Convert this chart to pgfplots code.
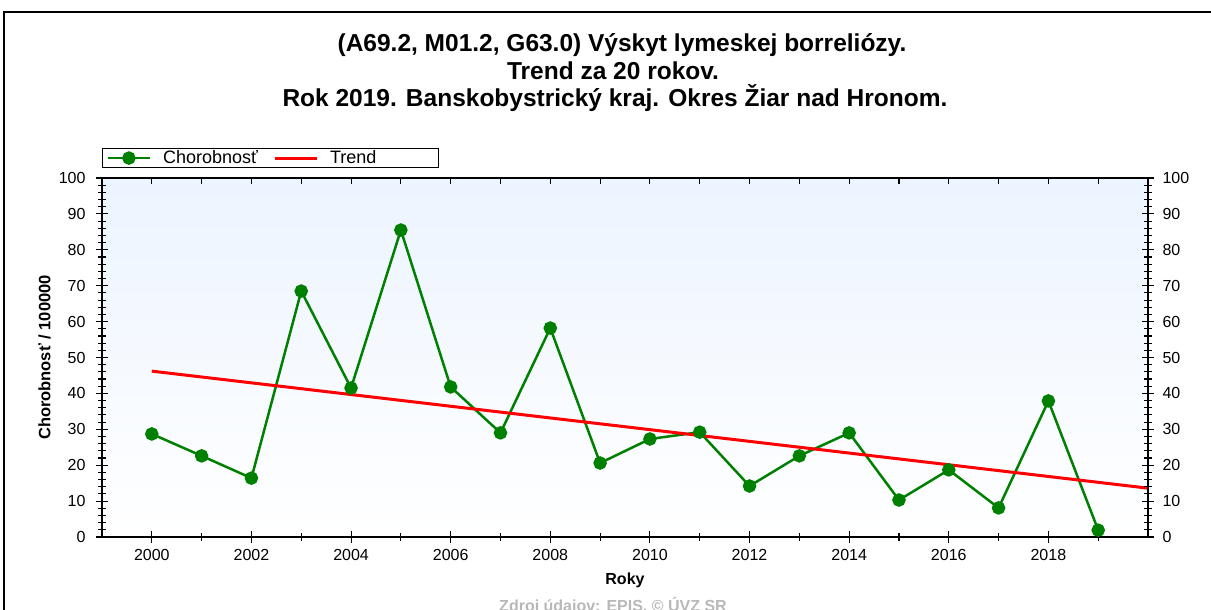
\documentclass[border=0pt]{standalone}
\usepackage{pgfplots}
\pgfplotsset{compat=1.18}
\usepackage{fontspec}
\setmainfont{Liberation Sans}
\definecolor{cgreen}{RGB}{0,128,0}
\definecolor{cred}{RGB}{255,0,0}
\definecolor{bgtop}{RGB}{236,244,255}
\begin{document}
\begin{tikzpicture}[x=1pt,y=1pt]
\useasboundingbox (0,0) rectangle (1211,610);
\draw[line width=1.3pt] (4,-20) -- (4,598) -- (1240,598);
\node[font=\bfseries\fontsize{24.5}{28}\selectfont] at (622,565) {(A69.2, M01.2, G63.0) Výskyt lymeskej borreliózy.};
\node[font=\bfseries\fontsize{24.5}{28}\selectfont] at (613,539) {Trend za 20 rokov.};
\node[font=\bfseries\fontsize{24.5}{28}\selectfont] at (615,512) {Rok 2019. Banskobystrický kraj. Okres Žiar nad Hronom.};
\node[font=\bfseries\fontsize{16}{19}\selectfont, text=black!28, anchor=base] at (613,-2) {Zdroj údajov: EPIS, © ÚVZ SR};
\pgfplotsset{base/.style={
  at={(102pt,73pt)}, anchor=south west,
  width=1046pt, height=359pt, scale only axis,
  xmin=1999, xmax=2020, ymin=0, ymax=100,
  /pgf/number format/assume math mode=true,
  /pgf/number format/1000 sep={},
  tick label style={font=\fontsize{16}{19}\selectfont},
  axis line style={line width=1.3pt},
  every tick/.style={black, line width=1.1pt},
}}
\begin{axis}[base,
  axis background/.style={top color=bgtop, bottom color=white},
  xtick={2000,2002,...,2018},
  minor xtick={2001,2003,...,2019},
  xtick pos=bottom,
  ytick={0,10,...,100},
  minor ytick={0,2,...,100},
  ytick pos=left,
  tick align=center,
  major tick length=12pt,
  minor tick length=8pt,
  xticklabel style={yshift=-3pt},
  yticklabel style={xshift=-7pt},
  xlabel={Roky},
  ylabel={Chorobnosť / 100000},
  xlabel style={font=\bfseries\fontsize{16}{19}\selectfont, at={(axis description cs:0.5,-0.12)}, anchor=center},
  ylabel style={font=\bfseries\fontsize{16.5}{19}\selectfont, at={(axis description cs:-0.055,0.5)}, anchor=center},
  legend columns=2,
  legend style={at={(0,1)}, anchor=south west, yshift=10pt, draw=black, line width=1.3pt,
    inner xsep=4pt, inner ysep=0pt, font=\fontsize{18}{20}\selectfont,
    /tikz/every even column/.append style={column sep=8pt}},
  legend cell align=left,
  legend image code/.code={\draw[mark repeat=2,mark phase=2,#1] plot coordinates {(0pt,0pt) (21pt,0pt) (42pt,0pt)};},
]
\addplot[color=cgreen, line width=2.5pt, mark=*, mark size=5.5pt, mark options={solid}] coordinates {
(2000,28.7) (2001,22.6) (2002,16.4) (2003,68.5) (2004,41.5) (2005,85.5) (2006,41.8) (2007,29.0) (2008,58.2) (2009,20.6)
(2010,27.3) (2011,29.2) (2012,14.2) (2013,22.6) (2014,29.0) (2015,10.3) (2016,18.7) (2017,8.1) (2018,37.9) (2019,1.9)};
\addlegendentry{\hspace{10pt}\makebox[100pt][l]{Chorobnosť}}
\addplot[color=cred, line width=3pt] coordinates {(2000,46.2) (2020,13.6)};
\addlegendentry{\hspace{10pt}\makebox[102pt][l]{Trend}}
\end{axis}
\begin{axis}[base,
  axis x line=none, axis y line*=right,
  ytick={0,10,...,100},
  minor ytick={0,2,...,100},
  tick align=center,
  major tick length=12pt,
  minor tick length=8pt,
  yticklabel style={xshift=5pt},
]
\addplot[draw=none] coordinates {(2000,0)};
\end{axis}
\begin{axis}[base,
  axis x line*=top, axis y line=none,
  xtick={2000,2001,...,2019}, xticklabels={},
  tick align=inside,
  major tick length=6pt,
]
\addplot[draw=none] coordinates {(2000,0)};
\end{axis}
\end{tikzpicture}
\end{document}
